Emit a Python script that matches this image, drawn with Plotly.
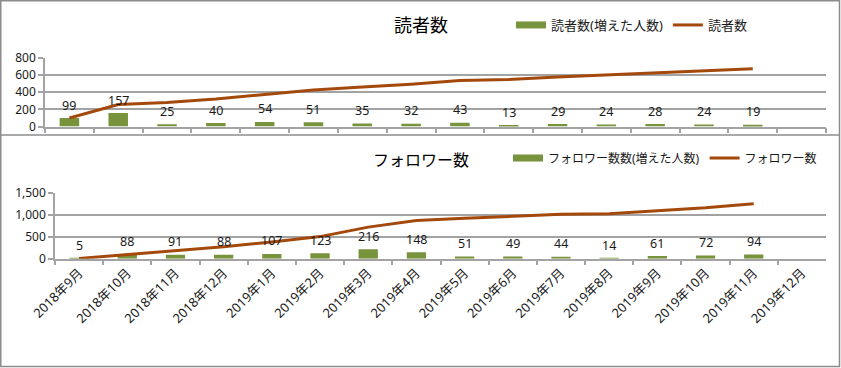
import plotly.graph_objects as go

months = ["2018年9月", "2018年10月", "2018年11月", "2018年12月",
          "2019年1月", "2019年2月", "2019年3月", "2019年4月",
          "2019年5月", "2019年6月", "2019年7月", "2019年8月",
          "2019年9月", "2019年10月", "2019年11月", "2019年12月"]

reader_new = [99, 157, 25, 40, 54, 51, 35, 32, 43, 13, 29, 24, 28, 24, 19]
reader_total = [99, 256, 281, 321, 375, 426, 461, 493, 536, 549, 578, 602, 630, 654, 673]
follower_new = [5, 88, 91, 88, 107, 123, 216, 148, 51, 49, 44, 14, 61, 72, 94]
follower_total = [5, 93, 184, 272, 379, 502, 718, 866, 917, 966, 1010, 1024, 1085, 1157, 1251]

W, H = 841, 368
def px(x):
    return x / W
def py(y):
    return 1 - y / H

BAR = "#77933C"
LINE = "#A4490C"
GRID = "#A3A3A3"
TXT = "#1a1a1a"
FONT = "Noto Sans, Noto Sans CJK JP, sans-serif"

def pad(vals):
    return list(vals) + [None] * (len(months) - len(vals))

fig = go.Figure()

# top chart
fig.add_trace(go.Bar(x=months, y=pad(reader_new), name="読者数(増えた人数)",
                     marker=dict(color=BAR, line=dict(width=0)),
                     xaxis="x", yaxis="y", showlegend=False, legend="legend"))
fig.add_trace(go.Scatter(x=[None], y=[None], mode="lines", name="読者数(増えた人数)",
                         line=dict(color=BAR, width=7), xaxis="x", yaxis="y",
                         legend="legend", hoverinfo="skip"))
fig.add_trace(go.Scatter(x=months, y=pad(reader_total), name="読者数", mode="lines",
                         line=dict(color=LINE, width=3), xaxis="x", yaxis="y",
                         legend="legend"))

# bottom chart
fig.add_trace(go.Bar(x=months, y=pad(follower_new), name="フォロワー数数(増えた人数)",
                     marker=dict(color=BAR, line=dict(width=0)),
                     xaxis="x2", yaxis="y2", showlegend=False, legend="legend2"))
fig.add_trace(go.Scatter(x=[None], y=[None], mode="lines", name="フォロワー数数(増えた人数)",
                         line=dict(color=BAR, width=7), xaxis="x2", yaxis="y2",
                         legend="legend2", hoverinfo="skip"))
fig.add_trace(go.Scatter(x=months, y=pad(follower_total), name="フォロワー数", mode="lines",
                         line=dict(color=LINE, width=3), xaxis="x2", yaxis="y2",
                         legend="legend2"))

annotations = []
for m, v in zip(months, reader_new):
    annotations.append(dict(x=m, y=v, xref="x", yref="y", text=str(v), showarrow=False,
                            yshift=13, font=dict(size=12.5, color=TXT, family=FONT)))
for m, v in zip(months, follower_new):
    annotations.append(dict(x=m, y=v, xref="x2", yref="y2", text=str(v), showarrow=False,
                            yshift=13, font=dict(size=12.5, color=TXT, family=FONT)))

annotations.append(dict(x=0.5, y=py(25), xref="paper", yref="paper", text="読者数",
                        showarrow=False, xanchor="center", yanchor="middle",
                        font=dict(size=18, color="#000", family=FONT)))
annotations.append(dict(x=0.5, y=py(160), xref="paper", yref="paper", text="フォロワー数",
                        showarrow=False, xanchor="center", yanchor="middle",
                        font=dict(size=16, color="#000", family=FONT)))

shapes = [
    dict(type="rect", xref="paper", yref="paper", x0=px(0.75), x1=px(839.5), y0=py(366.5), y1=py(0.75),
         line=dict(color="#8C8C8C", width=1.5), layer="below"),
    dict(type="line", xref="paper", yref="paper", x0=px(0), x1=px(840), y0=py(135), y1=py(135),
         line=dict(color="#8C8C8C", width=1.5), layer="below"),
]

axis_common = dict(showline=True, linecolor=GRID, linewidth=1.5, ticks="outside",
                   tickcolor=GRID, ticklen=5, tickwidth=1.5, zeroline=False, automargin=False,
                   tickfont=dict(size=12, color=TXT, family=FONT))

fig.update_layout(
    width=W, height=H, margin=dict(l=0, r=0, t=0, b=0, autoexpand=False),
    paper_bgcolor="white", plot_bgcolor="white",
    barmode="group", bargap=0.6,
    font=dict(family=FONT, size=12, color=TXT),
    xaxis=dict(domain=[px(45), px(826)], anchor="y", type="category",
               categoryorder="array", categoryarray=months, range=[-0.5, 15.5],
               showticklabels=False, showgrid=False, tickson="boundaries", **axis_common),
    yaxis=dict(domain=[py(126.5), py(58)], anchor="x", range=[0, 800], dtick=200,
               showgrid=True, gridcolor=GRID, gridwidth=1.5, **axis_common),
    xaxis2=dict(domain=[px(55), px(826)], anchor="y2", type="category",
                categoryorder="array", categoryarray=months, range=[-0.5, 15.5],
                tickangle=-45, showgrid=False, tickson="boundaries",
                **{**axis_common, "tickfont": dict(size=13, color=TXT, family=FONT)}),
    yaxis2=dict(domain=[py(258.7), py(192.7)], anchor="x2", range=[0, 1500], dtick=500,
                tickformat=",", showgrid=True, gridcolor=GRID, gridwidth=1.5, **axis_common),
    legend=dict(orientation="h", x=px(511), y=py(25), xanchor="left", yanchor="middle",
                font=dict(size=13, color=TXT, family=FONT), bgcolor="rgba(0,0,0,0)",
                itemwidth=30),
    legend2=dict(orientation="h", x=px(508), y=py(158), xanchor="left", yanchor="middle",
                 font=dict(size=12, color=TXT, family=FONT), bgcolor="rgba(0,0,0,0)",
                 itemwidth=30),
    annotations=annotations,
    shapes=shapes,
)

fig.write_html("out.html", config={"displayModeBar": False},
               post_script="document.body.style.margin='0px';")
